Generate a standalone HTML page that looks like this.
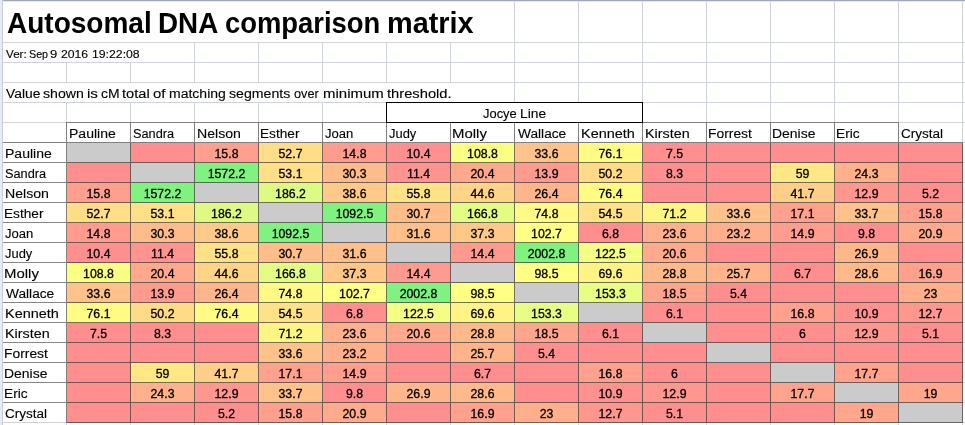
<!DOCTYPE html><html><head><meta charset="utf-8"><title>Autosomal DNA comparison matrix</title><style>
html,body{margin:0;padding:0;background:#fff;}
body{width:965px;height:425px;position:relative;overflow:hidden;font-family:"Liberation Sans",sans-serif;color:#000;}
div{position:absolute;box-sizing:border-box;}
.v{width:1px;background:#cfd3de;}
.h{height:1px;background:#cfd3de;}
.c{height:20px;width:64px;border-right:1px solid;border-bottom:1px solid;}
.t{font-size:12.5px;line-height:20px;height:20px;white-space:nowrap;-webkit-text-stroke:0.12px #000;transform-origin:0 50%;}
.n{text-align:center;width:64px;font-size:12.3px;-webkit-text-stroke-width:0.3px;transform:none;}
.ttl{font-size:29.6px;font-weight:bold;line-height:40px;white-space:nowrap;transform-origin:0 50%;}
.dk{background:#808080;}
</style></head><body>
<div style="left:0;top:0;width:965px;height:1px;background:#9ea8ba"></div>
<div style="left:0;top:1px;width:965px;height:1px;background:#e4e8f0"></div>
<div style="left:0;top:0;width:2px;height:425px;background:#e6eaf3"></div>
<div class="h" style="left:2px;top:42px;width:963px"></div>
<div class="h" style="left:2px;top:62px;width:963px"></div>
<div class="h" style="left:2px;top:82px;width:963px"></div>
<div class="h" style="left:2px;top:102px;width:963px"></div>
<div class="h" style="left:2px;top:122px;width:963px"></div>
<div class="h" style="left:2px;top:142px;width:963px"></div>
<div class="h" style="left:2px;top:162px;width:963px"></div>
<div class="h" style="left:2px;top:182px;width:963px"></div>
<div class="h" style="left:2px;top:202px;width:963px"></div>
<div class="h" style="left:2px;top:222px;width:963px"></div>
<div class="h" style="left:2px;top:242px;width:963px"></div>
<div class="h" style="left:2px;top:262px;width:963px"></div>
<div class="h" style="left:2px;top:282px;width:963px"></div>
<div class="h" style="left:2px;top:302px;width:963px"></div>
<div class="h" style="left:2px;top:322px;width:963px"></div>
<div class="h" style="left:2px;top:342px;width:963px"></div>
<div class="h" style="left:2px;top:362px;width:963px"></div>
<div class="h" style="left:2px;top:382px;width:963px"></div>
<div class="h" style="left:2px;top:402px;width:963px"></div>
<div class="h" style="left:2px;top:422px;width:963px"></div>
<div style="left:2px;top:0;width:1px;height:425px;background:#c6cedc"></div>
<div class="v" style="left:66px;top:62px;height:20px"></div>
<div class="v" style="left:66px;top:102px;height:323px"></div>
<div class="v" style="left:130px;top:62px;height:20px"></div>
<div class="v" style="left:130px;top:102px;height:323px"></div>
<div class="v" style="left:194px;top:42px;height:40px"></div>
<div class="v" style="left:194px;top:102px;height:323px"></div>
<div class="v" style="left:258px;top:42px;height:40px"></div>
<div class="v" style="left:258px;top:102px;height:323px"></div>
<div class="v" style="left:322px;top:42px;height:40px"></div>
<div class="v" style="left:322px;top:102px;height:323px"></div>
<div class="v" style="left:386px;top:42px;height:40px"></div>
<div class="v" style="left:386px;top:102px;height:323px"></div>
<div class="v" style="left:450px;top:42px;height:40px"></div>
<div class="v" style="left:450px;top:102px;height:323px"></div>
<div class="v" style="left:514px;top:2px;height:423px"></div>
<div class="v" style="left:578px;top:2px;height:423px"></div>
<div class="v" style="left:642px;top:2px;height:423px"></div>
<div class="v" style="left:706px;top:2px;height:423px"></div>
<div class="v" style="left:770px;top:2px;height:423px"></div>
<div class="v" style="left:834px;top:2px;height:423px"></div>
<div class="v" style="left:898px;top:2px;height:423px"></div>
<div class="v" style="left:962px;top:2px;height:423px"></div>
<div class="ttl" style="left:7.09px;top:2.6px;transform:scaleX(0.9460);height:40px;">Autosomal</div>
<div class="ttl" style="left:158.22px;top:2.6px;transform:scaleX(0.9388);height:40px;">DNA</div>
<div class="ttl" style="left:224.74px;top:2.6px;transform:scaleX(0.9256);height:40px;">comparison</div>
<div class="ttl" style="left:386.55px;top:2.6px;transform:scaleX(0.9757);height:40px;">matrix</div>
<div class="t" style="left:5.80px;top:44px;transform:scaleX(1.0904);font-size:10.7px;-webkit-text-stroke-width:0.12px;">Ver:</div>
<div class="t" style="left:29.00px;top:44px;transform:scaleX(1.0027);font-size:10.7px;-webkit-text-stroke-width:0.12px;">Sep</div>
<div class="t" style="left:50.29px;top:44px;transform:scaleX(1.2200);font-size:10.7px;-webkit-text-stroke-width:0.12px;">9</div>
<div class="t" style="left:61.13px;top:44px;transform:scaleX(1.1385);font-size:10.7px;-webkit-text-stroke-width:0.12px;">2016</div>
<div class="t" style="left:92.04px;top:44px;transform:scaleX(1.1457);font-size:10.7px;-webkit-text-stroke-width:0.12px;">19:22:08</div>
<div class="t" style="left:5.50px;top:84px;transform:scaleX(1.1082);">Value</div>
<div class="t" style="left:43.22px;top:84px;transform:scaleX(1.1291);">shown</div>
<div class="t" style="left:86.69px;top:84px;transform:scaleX(1.2129);">is</div>
<div class="t" style="left:100.64px;top:84px;transform:scaleX(1.1148);">cM</div>
<div class="t" style="left:121.90px;top:84px;transform:scaleX(1.1696);">total</div>
<div class="t" style="left:152.90px;top:84px;transform:scaleX(1.1900);">of</div>
<div class="t" style="left:169.06px;top:84px;transform:scaleX(1.1208);">matching</div>
<div class="t" style="left:228.92px;top:84px;transform:scaleX(1.1308);">segments</div>
<div class="t" style="left:294.09px;top:84px;transform:scaleX(1.0189);">over</div>
<div class="t" style="left:323.10px;top:84px;transform:scaleX(1.1980);">minimum</div>
<div class="t" style="left:386.70px;top:84px;transform:scaleX(1.1777);">threshold.</div>
<div class="t" style="left:68.88px;top:124px;transform:scaleX(1.1230)">Pauline</div>
<div class="t" style="left:132.79px;top:124px;transform:scaleX(1.0200)">Sandra</div>
<div class="t" style="left:196.67px;top:124px;transform:scaleX(1.1302)">Nelson</div>
<div class="t" style="left:260.31px;top:124px;transform:scaleX(1.0943)">Esther</div>
<div class="t" style="left:324.74px;top:124px;transform:scaleX(1.0462)">Joan</div>
<div class="t" style="left:389.04px;top:124px;transform:scaleX(1.0324)">Judy</div>
<div class="t" style="left:452.30px;top:124px;transform:scaleX(1.1965)">Molly</div>
<div class="t" style="left:517.70px;top:124px;transform:scaleX(1.0966)">Wallace</div>
<div class="t" style="left:580.84px;top:124px;transform:scaleX(1.1575)">Kenneth</div>
<div class="t" style="left:644.65px;top:124px;transform:scaleX(1.1463)">Kirsten</div>
<div class="t" style="left:708.49px;top:124px;transform:scaleX(1.1091)">Forrest</div>
<div class="t" style="left:772.28px;top:124px;transform:scaleX(1.1173)">Denise</div>
<div class="t" style="left:836.00px;top:124px;transform:scaleX(1.0963)">Eric</div>
<div class="t" style="left:900.86px;top:124px;transform:scaleX(1.0808)">Crystal</div>
<div class="dk" style="left:66px;top:122px;width:833px;height:1px"></div>
<div class="dk" style="left:66px;top:122px;width:1px;height:20px"></div>
<div class="dk" style="left:130px;top:122px;width:1px;height:20px"></div>
<div class="dk" style="left:194px;top:122px;width:1px;height:20px"></div>
<div class="dk" style="left:258px;top:122px;width:1px;height:20px"></div>
<div class="dk" style="left:322px;top:122px;width:1px;height:20px"></div>
<div class="dk" style="left:386px;top:122px;width:1px;height:20px"></div>
<div class="dk" style="left:450px;top:122px;width:1px;height:20px"></div>
<div class="dk" style="left:514px;top:122px;width:1px;height:20px"></div>
<div class="dk" style="left:578px;top:122px;width:1px;height:20px"></div>
<div class="dk" style="left:642px;top:122px;width:1px;height:20px"></div>
<div class="dk" style="left:706px;top:122px;width:1px;height:20px"></div>
<div class="dk" style="left:770px;top:122px;width:1px;height:20px"></div>
<div class="dk" style="left:834px;top:122px;width:1px;height:20px"></div>
<div class="dk" style="left:898px;top:122px;width:1px;height:20px"></div>
<div style="left:386px;top:102px;width:257px;height:21px;border:1px solid #000;background:#fff"></div>
<div class="t" style="left:482.84px;top:104px;transform:scaleX(1.0344);">Jocye</div>
<div class="t" style="left:519.69px;top:104px;transform:scaleX(1.1056);">Line</div>
<div class="t" style="left:4.88px;top:144px;transform:scaleX(1.1230)">Pauline</div>
<div class="c" style="left:67px;top:143px;background:#cbcbcb;border-color:#656565"></div>
<div class="c" style="left:131px;top:143px;background:#ff8f8f;border-color:#745353"></div>
<div class="c" style="left:195px;top:143px;background:#ff9f8d;border-color:#745852"></div>
<div class="t n" style="left:194.5px;top:144px">15.8</div>
<div class="c" style="left:259px;top:143px;background:#ffde87;border-color:#746b50"></div>
<div class="t n" style="left:258.5px;top:144px">52.7</div>
<div class="c" style="left:323px;top:143px;background:#ff9c8e;border-color:#745753"></div>
<div class="t n" style="left:322.5px;top:144px">14.8</div>
<div class="c" style="left:387px;top:143px;background:#ff908f;border-color:#745353"></div>
<div class="t n" style="left:386.5px;top:144px">10.4</div>
<div class="c" style="left:451px;top:143px;background:#faff84;border-color:#737450"></div>
<div class="t n" style="left:450.5px;top:144px">108.8</div>
<div class="c" style="left:515px;top:143px;background:#ffc28a;border-color:#746251"></div>
<div class="t n" style="left:514.5px;top:144px">33.6</div>
<div class="c" style="left:579px;top:143px;background:#fffb84;border-color:#747350"></div>
<div class="t n" style="left:578.5px;top:144px">76.1</div>
<div class="c" style="left:643px;top:143px;background:#ff8f8f;border-color:#745353"></div>
<div class="t n" style="left:642.5px;top:144px">7.5</div>
<div class="c" style="left:707px;top:143px;background:#ff8f8f;border-color:#745353"></div>
<div class="c" style="left:771px;top:143px;background:#ff8f8f;border-color:#745353"></div>
<div class="c" style="left:835px;top:143px;background:#ff8f8f;border-color:#745353"></div>
<div class="c" style="left:899px;top:143px;background:#ff8f8f;border-color:#745353"></div>
<div class="t" style="left:4.79px;top:164px;transform:scaleX(1.0200)">Sandra</div>
<div class="c" style="left:67px;top:163px;background:#ff8f8f;border-color:#745353"></div>
<div class="c" style="left:131px;top:163px;background:#cbcbcb;border-color:#656565"></div>
<div class="c" style="left:195px;top:163px;background:#80f280;border-color:#4e714e"></div>
<div class="t n" style="left:194.5px;top:164px">1572.2</div>
<div class="c" style="left:259px;top:163px;background:#ffdf87;border-color:#746b50"></div>
<div class="t n" style="left:258.5px;top:164px">53.1</div>
<div class="c" style="left:323px;top:163px;background:#ffbc8b;border-color:#746052"></div>
<div class="t n" style="left:322.5px;top:164px">30.3</div>
<div class="c" style="left:387px;top:163px;background:#ff938f;border-color:#745453"></div>
<div class="t n" style="left:386.5px;top:164px">11.4</div>
<div class="c" style="left:451px;top:163px;background:#ffa98c;border-color:#745b52"></div>
<div class="t n" style="left:450.5px;top:164px">20.4</div>
<div class="c" style="left:515px;top:163px;background:#ff9a8e;border-color:#745653"></div>
<div class="t n" style="left:514.5px;top:164px">13.9</div>
<div class="c" style="left:579px;top:163px;background:#ffdb88;border-color:#746a51"></div>
<div class="t n" style="left:578.5px;top:164px">50.2</div>
<div class="c" style="left:643px;top:163px;background:#ff8f8f;border-color:#745353"></div>
<div class="t n" style="left:642.5px;top:164px">8.3</div>
<div class="c" style="left:707px;top:163px;background:#ff8f8f;border-color:#745353"></div>
<div class="c" style="left:771px;top:163px;background:#ffe786;border-color:#746d50"></div>
<div class="t n" style="left:770.5px;top:164px">59</div>
<div class="c" style="left:835px;top:163px;background:#ffb18c;border-color:#745d52"></div>
<div class="t n" style="left:834.5px;top:164px">24.3</div>
<div class="c" style="left:899px;top:163px;background:#ff8f8f;border-color:#745353"></div>
<div class="t" style="left:4.67px;top:184px;transform:scaleX(1.1302)">Nelson</div>
<div class="c" style="left:67px;top:183px;background:#ff9f8d;border-color:#745852"></div>
<div class="t n" style="left:66.5px;top:184px">15.8</div>
<div class="c" style="left:131px;top:183px;background:#80f280;border-color:#4e714e"></div>
<div class="t n" style="left:130.5px;top:184px">1572.2</div>
<div class="c" style="left:195px;top:183px;background:#cbcbcb;border-color:#656565"></div>
<div class="c" style="left:259px;top:183px;background:#ddfb83;border-color:#6a734f"></div>
<div class="t n" style="left:258.5px;top:184px">186.2</div>
<div class="c" style="left:323px;top:183px;background:#ffca89;border-color:#746551"></div>
<div class="t n" style="left:322.5px;top:184px">38.6</div>
<div class="c" style="left:387px;top:183px;background:#ffe287;border-color:#746c50"></div>
<div class="t n" style="left:386.5px;top:184px">55.8</div>
<div class="c" style="left:451px;top:183px;background:#ffd388;border-color:#746751"></div>
<div class="t n" style="left:450.5px;top:184px">44.6</div>
<div class="c" style="left:515px;top:183px;background:#ffb58b;border-color:#745e52"></div>
<div class="t n" style="left:514.5px;top:184px">26.4</div>
<div class="c" style="left:579px;top:183px;background:#fffb84;border-color:#747350"></div>
<div class="t n" style="left:578.5px;top:184px">76.4</div>
<div class="c" style="left:643px;top:183px;background:#ff8f8f;border-color:#745353"></div>
<div class="c" style="left:707px;top:183px;background:#ff8f8f;border-color:#745353"></div>
<div class="c" style="left:771px;top:183px;background:#ffcf89;border-color:#746651"></div>
<div class="t n" style="left:770.5px;top:184px">41.7</div>
<div class="c" style="left:835px;top:183px;background:#ff978e;border-color:#745553"></div>
<div class="t n" style="left:834.5px;top:184px">12.9</div>
<div class="c" style="left:899px;top:183px;background:#ff8f8f;border-color:#745353"></div>
<div class="t n" style="left:898.5px;top:184px">5.2</div>
<div class="t" style="left:4.31px;top:204px;transform:scaleX(1.0943)">Esther</div>
<div class="c" style="left:67px;top:203px;background:#ffde87;border-color:#746b50"></div>
<div class="t n" style="left:66.5px;top:204px">52.7</div>
<div class="c" style="left:131px;top:203px;background:#ffdf87;border-color:#746b50"></div>
<div class="t n" style="left:130.5px;top:204px">53.1</div>
<div class="c" style="left:195px;top:203px;background:#ddfb83;border-color:#6a734f"></div>
<div class="t n" style="left:194.5px;top:204px">186.2</div>
<div class="c" style="left:259px;top:203px;background:#cbcbcb;border-color:#656565"></div>
<div class="c" style="left:323px;top:203px;background:#80f280;border-color:#4e714e"></div>
<div class="t n" style="left:322.5px;top:204px">1092.5</div>
<div class="c" style="left:387px;top:203px;background:#ffbd8a;border-color:#746151"></div>
<div class="t n" style="left:386.5px;top:204px">30.7</div>
<div class="c" style="left:451px;top:203px;background:#e3fc83;border-color:#6c744f"></div>
<div class="t n" style="left:450.5px;top:204px">166.8</div>
<div class="c" style="left:515px;top:203px;background:#fff985;border-color:#747350"></div>
<div class="t n" style="left:514.5px;top:204px">74.8</div>
<div class="c" style="left:579px;top:203px;background:#ffe187;border-color:#746c50"></div>
<div class="t n" style="left:578.5px;top:204px">54.5</div>
<div class="c" style="left:643px;top:203px;background:#fff585;border-color:#747250"></div>
<div class="t n" style="left:642.5px;top:204px">71.2</div>
<div class="c" style="left:707px;top:203px;background:#ffc28a;border-color:#746251"></div>
<div class="t n" style="left:706.5px;top:204px">33.6</div>
<div class="c" style="left:771px;top:203px;background:#ffa28d;border-color:#745952"></div>
<div class="t n" style="left:770.5px;top:204px">17.1</div>
<div class="c" style="left:835px;top:203px;background:#ffc28a;border-color:#746251"></div>
<div class="t n" style="left:834.5px;top:204px">33.7</div>
<div class="c" style="left:899px;top:203px;background:#ff9f8d;border-color:#745852"></div>
<div class="t n" style="left:898.5px;top:204px">15.8</div>
<div class="t" style="left:4.74px;top:224px;transform:scaleX(1.0462)">Joan</div>
<div class="c" style="left:67px;top:223px;background:#ff9c8e;border-color:#745753"></div>
<div class="t n" style="left:66.5px;top:224px">14.8</div>
<div class="c" style="left:131px;top:223px;background:#ffbc8b;border-color:#746052"></div>
<div class="t n" style="left:130.5px;top:224px">30.3</div>
<div class="c" style="left:195px;top:223px;background:#ffca89;border-color:#746551"></div>
<div class="t n" style="left:194.5px;top:224px">38.6</div>
<div class="c" style="left:259px;top:223px;background:#80f280;border-color:#4e714e"></div>
<div class="t n" style="left:258.5px;top:224px">1092.5</div>
<div class="c" style="left:323px;top:223px;background:#cbcbcb;border-color:#656565"></div>
<div class="c" style="left:387px;top:223px;background:#ffbf8a;border-color:#746151"></div>
<div class="t n" style="left:386.5px;top:224px">31.6</div>
<div class="c" style="left:451px;top:223px;background:#ffc889;border-color:#746451"></div>
<div class="t n" style="left:450.5px;top:224px">37.3</div>
<div class="c" style="left:515px;top:223px;background:#feff84;border-color:#747450"></div>
<div class="t n" style="left:514.5px;top:224px">102.7</div>
<div class="c" style="left:579px;top:223px;background:#ff8f8f;border-color:#745353"></div>
<div class="t n" style="left:578.5px;top:224px">6.8</div>
<div class="c" style="left:643px;top:223px;background:#ffb08c;border-color:#745d52"></div>
<div class="t n" style="left:642.5px;top:224px">23.6</div>
<div class="c" style="left:707px;top:223px;background:#ffaf8c;border-color:#745c52"></div>
<div class="t n" style="left:706.5px;top:224px">23.2</div>
<div class="c" style="left:771px;top:223px;background:#ff9d8e;border-color:#745753"></div>
<div class="t n" style="left:770.5px;top:224px">14.9</div>
<div class="c" style="left:835px;top:223px;background:#ff8f8f;border-color:#745353"></div>
<div class="t n" style="left:834.5px;top:224px">9.8</div>
<div class="c" style="left:899px;top:223px;background:#ffaa8c;border-color:#745b52"></div>
<div class="t n" style="left:898.5px;top:224px">20.9</div>
<div class="t" style="left:5.04px;top:244px;transform:scaleX(1.0324)">Judy</div>
<div class="c" style="left:67px;top:243px;background:#ff908f;border-color:#745353"></div>
<div class="t n" style="left:66.5px;top:244px">10.4</div>
<div class="c" style="left:131px;top:243px;background:#ff938f;border-color:#745453"></div>
<div class="t n" style="left:130.5px;top:244px">11.4</div>
<div class="c" style="left:195px;top:243px;background:#ffe287;border-color:#746c50"></div>
<div class="t n" style="left:194.5px;top:244px">55.8</div>
<div class="c" style="left:259px;top:243px;background:#ffbd8a;border-color:#746151"></div>
<div class="t n" style="left:258.5px;top:244px">30.7</div>
<div class="c" style="left:323px;top:243px;background:#ffbf8a;border-color:#746151"></div>
<div class="t n" style="left:322.5px;top:244px">31.6</div>
<div class="c" style="left:387px;top:243px;background:#cbcbcb;border-color:#656565"></div>
<div class="c" style="left:451px;top:243px;background:#ff9b8e;border-color:#745653"></div>
<div class="t n" style="left:450.5px;top:244px">14.4</div>
<div class="c" style="left:515px;top:243px;background:#80f280;border-color:#4e714e"></div>
<div class="t n" style="left:514.5px;top:244px">2002.8</div>
<div class="c" style="left:579px;top:243px;background:#f4fe84;border-color:#717450"></div>
<div class="t n" style="left:578.5px;top:244px">122.5</div>
<div class="c" style="left:643px;top:243px;background:#ffaa8c;border-color:#745b52"></div>
<div class="t n" style="left:642.5px;top:244px">20.6</div>
<div class="c" style="left:707px;top:243px;background:#ff8f8f;border-color:#745353"></div>
<div class="c" style="left:771px;top:243px;background:#ff8f8f;border-color:#745353"></div>
<div class="c" style="left:835px;top:243px;background:#ffb68b;border-color:#745f52"></div>
<div class="t n" style="left:834.5px;top:244px">26.9</div>
<div class="c" style="left:899px;top:243px;background:#ff8f8f;border-color:#745353"></div>
<div class="t" style="left:4.30px;top:264px;transform:scaleX(1.1965)">Molly</div>
<div class="c" style="left:67px;top:263px;background:#faff84;border-color:#737450"></div>
<div class="t n" style="left:66.5px;top:264px">108.8</div>
<div class="c" style="left:131px;top:263px;background:#ffa98c;border-color:#745b52"></div>
<div class="t n" style="left:130.5px;top:264px">20.4</div>
<div class="c" style="left:195px;top:263px;background:#ffd388;border-color:#746751"></div>
<div class="t n" style="left:194.5px;top:264px">44.6</div>
<div class="c" style="left:259px;top:263px;background:#e3fc83;border-color:#6c744f"></div>
<div class="t n" style="left:258.5px;top:264px">166.8</div>
<div class="c" style="left:323px;top:263px;background:#ffc889;border-color:#746451"></div>
<div class="t n" style="left:322.5px;top:264px">37.3</div>
<div class="c" style="left:387px;top:263px;background:#ff9b8e;border-color:#745653"></div>
<div class="t n" style="left:386.5px;top:264px">14.4</div>
<div class="c" style="left:451px;top:263px;background:#cbcbcb;border-color:#656565"></div>
<div class="c" style="left:515px;top:263px;background:#ffff84;border-color:#747450"></div>
<div class="t n" style="left:514.5px;top:264px">98.5</div>
<div class="c" style="left:579px;top:263px;background:#fff385;border-color:#747150"></div>
<div class="t n" style="left:578.5px;top:264px">69.6</div>
<div class="c" style="left:643px;top:263px;background:#ffba8b;border-color:#746052"></div>
<div class="t n" style="left:642.5px;top:264px">28.8</div>
<div class="c" style="left:707px;top:263px;background:#ffb48b;border-color:#745e52"></div>
<div class="t n" style="left:706.5px;top:264px">25.7</div>
<div class="c" style="left:771px;top:263px;background:#ff8f8f;border-color:#745353"></div>
<div class="t n" style="left:770.5px;top:264px">6.7</div>
<div class="c" style="left:835px;top:263px;background:#ffb98b;border-color:#746052"></div>
<div class="t n" style="left:834.5px;top:264px">28.6</div>
<div class="c" style="left:899px;top:263px;background:#ffa18d;border-color:#745852"></div>
<div class="t n" style="left:898.5px;top:264px">16.9</div>
<div class="t" style="left:5.70px;top:284px;transform:scaleX(1.0966)">Wallace</div>
<div class="c" style="left:67px;top:283px;background:#ffc28a;border-color:#746251"></div>
<div class="t n" style="left:66.5px;top:284px">33.6</div>
<div class="c" style="left:131px;top:283px;background:#ff9a8e;border-color:#745653"></div>
<div class="t n" style="left:130.5px;top:284px">13.9</div>
<div class="c" style="left:195px;top:283px;background:#ffb58b;border-color:#745e52"></div>
<div class="t n" style="left:194.5px;top:284px">26.4</div>
<div class="c" style="left:259px;top:283px;background:#fff985;border-color:#747350"></div>
<div class="t n" style="left:258.5px;top:284px">74.8</div>
<div class="c" style="left:323px;top:283px;background:#feff84;border-color:#747450"></div>
<div class="t n" style="left:322.5px;top:284px">102.7</div>
<div class="c" style="left:387px;top:283px;background:#80f280;border-color:#4e714e"></div>
<div class="t n" style="left:386.5px;top:284px">2002.8</div>
<div class="c" style="left:451px;top:283px;background:#ffff84;border-color:#747450"></div>
<div class="t n" style="left:450.5px;top:284px">98.5</div>
<div class="c" style="left:515px;top:283px;background:#cbcbcb;border-color:#656565"></div>
<div class="c" style="left:579px;top:283px;background:#e7fd83;border-color:#6d744f"></div>
<div class="t n" style="left:578.5px;top:284px">153.3</div>
<div class="c" style="left:643px;top:283px;background:#ffa58d;border-color:#745a52"></div>
<div class="t n" style="left:642.5px;top:284px">18.5</div>
<div class="c" style="left:707px;top:283px;background:#ff8f8f;border-color:#745353"></div>
<div class="t n" style="left:706.5px;top:284px">5.4</div>
<div class="c" style="left:771px;top:283px;background:#ff8f8f;border-color:#745353"></div>
<div class="c" style="left:835px;top:283px;background:#ff8f8f;border-color:#745353"></div>
<div class="c" style="left:899px;top:283px;background:#ffaf8c;border-color:#745c52"></div>
<div class="t n" style="left:898.5px;top:284px">23</div>
<div class="t" style="left:4.84px;top:304px;transform:scaleX(1.1575)">Kenneth</div>
<div class="c" style="left:67px;top:303px;background:#fffb84;border-color:#747350"></div>
<div class="t n" style="left:66.5px;top:304px">76.1</div>
<div class="c" style="left:131px;top:303px;background:#ffdb88;border-color:#746a51"></div>
<div class="t n" style="left:130.5px;top:304px">50.2</div>
<div class="c" style="left:195px;top:303px;background:#fffb84;border-color:#747350"></div>
<div class="t n" style="left:194.5px;top:304px">76.4</div>
<div class="c" style="left:259px;top:303px;background:#ffe187;border-color:#746c50"></div>
<div class="t n" style="left:258.5px;top:304px">54.5</div>
<div class="c" style="left:323px;top:303px;background:#ff8f8f;border-color:#745353"></div>
<div class="t n" style="left:322.5px;top:304px">6.8</div>
<div class="c" style="left:387px;top:303px;background:#f4fe84;border-color:#717450"></div>
<div class="t n" style="left:386.5px;top:304px">122.5</div>
<div class="c" style="left:451px;top:303px;background:#fff385;border-color:#747150"></div>
<div class="t n" style="left:450.5px;top:304px">69.6</div>
<div class="c" style="left:515px;top:303px;background:#e7fd83;border-color:#6d744f"></div>
<div class="t n" style="left:514.5px;top:304px">153.3</div>
<div class="c" style="left:579px;top:303px;background:#cbcbcb;border-color:#656565"></div>
<div class="c" style="left:643px;top:303px;background:#ff8f8f;border-color:#745353"></div>
<div class="t n" style="left:642.5px;top:304px">6.1</div>
<div class="c" style="left:707px;top:303px;background:#ff8f8f;border-color:#745353"></div>
<div class="c" style="left:771px;top:303px;background:#ffa18d;border-color:#745852"></div>
<div class="t n" style="left:770.5px;top:304px">16.8</div>
<div class="c" style="left:835px;top:303px;background:#ff928f;border-color:#745453"></div>
<div class="t n" style="left:834.5px;top:304px">10.9</div>
<div class="c" style="left:899px;top:303px;background:#ff978e;border-color:#745553"></div>
<div class="t n" style="left:898.5px;top:304px">12.7</div>
<div class="t" style="left:4.65px;top:324px;transform:scaleX(1.1463)">Kirsten</div>
<div class="c" style="left:67px;top:323px;background:#ff8f8f;border-color:#745353"></div>
<div class="t n" style="left:66.5px;top:324px">7.5</div>
<div class="c" style="left:131px;top:323px;background:#ff8f8f;border-color:#745353"></div>
<div class="t n" style="left:130.5px;top:324px">8.3</div>
<div class="c" style="left:195px;top:323px;background:#ff8f8f;border-color:#745353"></div>
<div class="c" style="left:259px;top:323px;background:#fff585;border-color:#747250"></div>
<div class="t n" style="left:258.5px;top:324px">71.2</div>
<div class="c" style="left:323px;top:323px;background:#ffb08c;border-color:#745d52"></div>
<div class="t n" style="left:322.5px;top:324px">23.6</div>
<div class="c" style="left:387px;top:323px;background:#ffaa8c;border-color:#745b52"></div>
<div class="t n" style="left:386.5px;top:324px">20.6</div>
<div class="c" style="left:451px;top:323px;background:#ffba8b;border-color:#746052"></div>
<div class="t n" style="left:450.5px;top:324px">28.8</div>
<div class="c" style="left:515px;top:323px;background:#ffa58d;border-color:#745a52"></div>
<div class="t n" style="left:514.5px;top:324px">18.5</div>
<div class="c" style="left:579px;top:323px;background:#ff8f8f;border-color:#745353"></div>
<div class="t n" style="left:578.5px;top:324px">6.1</div>
<div class="c" style="left:643px;top:323px;background:#cbcbcb;border-color:#656565"></div>
<div class="c" style="left:707px;top:323px;background:#ff8f8f;border-color:#745353"></div>
<div class="c" style="left:771px;top:323px;background:#ff8f8f;border-color:#745353"></div>
<div class="t n" style="left:770.5px;top:324px">6</div>
<div class="c" style="left:835px;top:323px;background:#ff978e;border-color:#745553"></div>
<div class="t n" style="left:834.5px;top:324px">12.9</div>
<div class="c" style="left:899px;top:323px;background:#ff8f8f;border-color:#745353"></div>
<div class="t n" style="left:898.5px;top:324px">5.1</div>
<div class="t" style="left:4.49px;top:344px;transform:scaleX(1.1091)">Forrest</div>
<div class="c" style="left:67px;top:343px;background:#ff8f8f;border-color:#745353"></div>
<div class="c" style="left:131px;top:343px;background:#ff8f8f;border-color:#745353"></div>
<div class="c" style="left:195px;top:343px;background:#ff8f8f;border-color:#745353"></div>
<div class="c" style="left:259px;top:343px;background:#ffc28a;border-color:#746251"></div>
<div class="t n" style="left:258.5px;top:344px">33.6</div>
<div class="c" style="left:323px;top:343px;background:#ffaf8c;border-color:#745c52"></div>
<div class="t n" style="left:322.5px;top:344px">23.2</div>
<div class="c" style="left:387px;top:343px;background:#ff8f8f;border-color:#745353"></div>
<div class="c" style="left:451px;top:343px;background:#ffb48b;border-color:#745e52"></div>
<div class="t n" style="left:450.5px;top:344px">25.7</div>
<div class="c" style="left:515px;top:343px;background:#ff8f8f;border-color:#745353"></div>
<div class="t n" style="left:514.5px;top:344px">5.4</div>
<div class="c" style="left:579px;top:343px;background:#ff8f8f;border-color:#745353"></div>
<div class="c" style="left:643px;top:343px;background:#ff8f8f;border-color:#745353"></div>
<div class="c" style="left:707px;top:343px;background:#cbcbcb;border-color:#656565"></div>
<div class="c" style="left:771px;top:343px;background:#ff8f8f;border-color:#745353"></div>
<div class="c" style="left:835px;top:343px;background:#ff8f8f;border-color:#745353"></div>
<div class="c" style="left:899px;top:343px;background:#ff8f8f;border-color:#745353"></div>
<div class="t" style="left:4.28px;top:364px;transform:scaleX(1.1173)">Denise</div>
<div class="c" style="left:67px;top:363px;background:#ff8f8f;border-color:#745353"></div>
<div class="c" style="left:131px;top:363px;background:#ffe786;border-color:#746d50"></div>
<div class="t n" style="left:130.5px;top:364px">59</div>
<div class="c" style="left:195px;top:363px;background:#ffcf89;border-color:#746651"></div>
<div class="t n" style="left:194.5px;top:364px">41.7</div>
<div class="c" style="left:259px;top:363px;background:#ffa28d;border-color:#745952"></div>
<div class="t n" style="left:258.5px;top:364px">17.1</div>
<div class="c" style="left:323px;top:363px;background:#ff9d8e;border-color:#745753"></div>
<div class="t n" style="left:322.5px;top:364px">14.9</div>
<div class="c" style="left:387px;top:363px;background:#ff8f8f;border-color:#745353"></div>
<div class="c" style="left:451px;top:363px;background:#ff8f8f;border-color:#745353"></div>
<div class="t n" style="left:450.5px;top:364px">6.7</div>
<div class="c" style="left:515px;top:363px;background:#ff8f8f;border-color:#745353"></div>
<div class="c" style="left:579px;top:363px;background:#ffa18d;border-color:#745852"></div>
<div class="t n" style="left:578.5px;top:364px">16.8</div>
<div class="c" style="left:643px;top:363px;background:#ff8f8f;border-color:#745353"></div>
<div class="t n" style="left:642.5px;top:364px">6</div>
<div class="c" style="left:707px;top:363px;background:#ff8f8f;border-color:#745353"></div>
<div class="c" style="left:771px;top:363px;background:#cbcbcb;border-color:#656565"></div>
<div class="c" style="left:835px;top:363px;background:#ffa38d;border-color:#745952"></div>
<div class="t n" style="left:834.5px;top:364px">17.7</div>
<div class="c" style="left:899px;top:363px;background:#ff8f8f;border-color:#745353"></div>
<div class="t" style="left:4.00px;top:384px;transform:scaleX(1.0963)">Eric</div>
<div class="c" style="left:67px;top:383px;background:#ff8f8f;border-color:#745353"></div>
<div class="c" style="left:131px;top:383px;background:#ffb18c;border-color:#745d52"></div>
<div class="t n" style="left:130.5px;top:384px">24.3</div>
<div class="c" style="left:195px;top:383px;background:#ff978e;border-color:#745553"></div>
<div class="t n" style="left:194.5px;top:384px">12.9</div>
<div class="c" style="left:259px;top:383px;background:#ffc28a;border-color:#746251"></div>
<div class="t n" style="left:258.5px;top:384px">33.7</div>
<div class="c" style="left:323px;top:383px;background:#ff8f8f;border-color:#745353"></div>
<div class="t n" style="left:322.5px;top:384px">9.8</div>
<div class="c" style="left:387px;top:383px;background:#ffb68b;border-color:#745f52"></div>
<div class="t n" style="left:386.5px;top:384px">26.9</div>
<div class="c" style="left:451px;top:383px;background:#ffb98b;border-color:#746052"></div>
<div class="t n" style="left:450.5px;top:384px">28.6</div>
<div class="c" style="left:515px;top:383px;background:#ff8f8f;border-color:#745353"></div>
<div class="c" style="left:579px;top:383px;background:#ff928f;border-color:#745453"></div>
<div class="t n" style="left:578.5px;top:384px">10.9</div>
<div class="c" style="left:643px;top:383px;background:#ff978e;border-color:#745553"></div>
<div class="t n" style="left:642.5px;top:384px">12.9</div>
<div class="c" style="left:707px;top:383px;background:#ff8f8f;border-color:#745353"></div>
<div class="c" style="left:771px;top:383px;background:#ffa38d;border-color:#745952"></div>
<div class="t n" style="left:770.5px;top:384px">17.7</div>
<div class="c" style="left:835px;top:383px;background:#cbcbcb;border-color:#656565"></div>
<div class="c" style="left:899px;top:383px;background:#ffa68d;border-color:#745a52"></div>
<div class="t n" style="left:898.5px;top:384px">19</div>
<div class="t" style="left:4.86px;top:404px;transform:scaleX(1.0808)">Crystal</div>
<div class="c" style="left:67px;top:403px;background:#ff8f8f;border-color:#745353"></div>
<div class="c" style="left:131px;top:403px;background:#ff8f8f;border-color:#745353"></div>
<div class="c" style="left:195px;top:403px;background:#ff8f8f;border-color:#745353"></div>
<div class="t n" style="left:194.5px;top:404px">5.2</div>
<div class="c" style="left:259px;top:403px;background:#ff9f8d;border-color:#745852"></div>
<div class="t n" style="left:258.5px;top:404px">15.8</div>
<div class="c" style="left:323px;top:403px;background:#ffaa8c;border-color:#745b52"></div>
<div class="t n" style="left:322.5px;top:404px">20.9</div>
<div class="c" style="left:387px;top:403px;background:#ff8f8f;border-color:#745353"></div>
<div class="c" style="left:451px;top:403px;background:#ffa18d;border-color:#745852"></div>
<div class="t n" style="left:450.5px;top:404px">16.9</div>
<div class="c" style="left:515px;top:403px;background:#ffaf8c;border-color:#745c52"></div>
<div class="t n" style="left:514.5px;top:404px">23</div>
<div class="c" style="left:579px;top:403px;background:#ff978e;border-color:#745553"></div>
<div class="t n" style="left:578.5px;top:404px">12.7</div>
<div class="c" style="left:643px;top:403px;background:#ff8f8f;border-color:#745353"></div>
<div class="t n" style="left:642.5px;top:404px">5.1</div>
<div class="c" style="left:707px;top:403px;background:#ff8f8f;border-color:#745353"></div>
<div class="c" style="left:771px;top:403px;background:#ff8f8f;border-color:#745353"></div>
<div class="c" style="left:835px;top:403px;background:#ffa68d;border-color:#745a52"></div>
<div class="t n" style="left:834.5px;top:404px">19</div>
<div class="c" style="left:899px;top:403px;background:#cbcbcb;border-color:#656565"></div>
<div class="dk" style="left:3px;top:142px;width:960px;height:1px"></div>
<div style="left:3px;top:162px;width:63px;height:1px;background:#868686"></div>
<div style="left:3px;top:182px;width:63px;height:1px;background:#868686"></div>
<div style="left:3px;top:202px;width:63px;height:1px;background:#868686"></div>
<div style="left:3px;top:222px;width:63px;height:1px;background:#868686"></div>
<div style="left:3px;top:242px;width:63px;height:1px;background:#868686"></div>
<div style="left:3px;top:262px;width:63px;height:1px;background:#868686"></div>
<div style="left:3px;top:282px;width:63px;height:1px;background:#868686"></div>
<div style="left:3px;top:302px;width:63px;height:1px;background:#868686"></div>
<div style="left:3px;top:322px;width:63px;height:1px;background:#868686"></div>
<div style="left:3px;top:342px;width:63px;height:1px;background:#868686"></div>
<div style="left:3px;top:362px;width:63px;height:1px;background:#868686"></div>
<div style="left:3px;top:382px;width:63px;height:1px;background:#868686"></div>
<div style="left:3px;top:402px;width:63px;height:1px;background:#868686"></div>
<div class="dk" style="left:66px;top:142px;width:1px;height:281px"></div>
</body></html>
